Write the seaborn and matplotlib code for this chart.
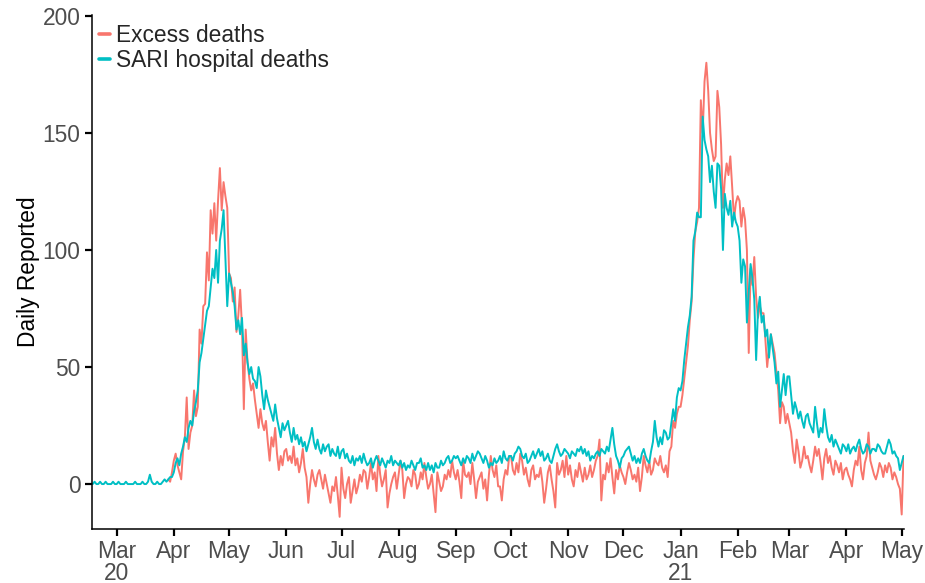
import numpy as np
import pandas as pd
import matplotlib
matplotlib.use("Agg")
import matplotlib.pyplot as plt
import seaborn as sns

# ---- Daily SARI hospital deaths, one list per month (from 17 Feb 2020) ----
sari_start = "2020-02-17"
sari_feb20 = [0, 1, 0, 0, 1, 0, 0, 1, 0, 0, 0, 1, 0]
sari_mar20 = [0, 1, 0, 0, 0, 1, 0, 0, 0, 0, 1, 0, 0, 0, 1, 0, 0, 1, 4, 1,
              0, 0, 1, 0, 0, 1, 2, 1, 2, 3, 3]
sari_apr20 = [5, 9, 11, 8, 13, 16, 20, 18, 24, 27, 25, 31, 35, 40, 52, 56, 62, 68, 74, 76,
              84, 92, 88, 100, 86, 104, 109, 117, 96, 76]
sari_may20 = [90, 86, 82, 76, 66, 70, 64, 71, 55, 60, 52, 47, 50, 45, 44, 41, 50, 46, 38, 32,
              40, 36, 33, 30, 27, 34, 28, 24, 20, 26, 23]
sari_jun20 = [25, 27, 22, 18, 24, 19, 21, 17, 20, 16, 18, 14, 17, 20, 24, 18, 15, 19, 15, 13,
              17, 14, 16, 17, 12, 15, 13, 12, 16, 11]
sari_jul20 = [14, 15, 11, 13, 10, 9, 12, 8, 11, 10, 12, 9, 13, 10, 8, 9, 11, 7, 10, 12,
              10, 8, 11, 9, 7, 10, 9, 12, 8, 10, 9]
sari_aug20 = [8, 10, 7, 9, 6, 8, 7, 10, 8, 6, 9, 9, 11, 7, 8, 6, 9, 6, 8, 5,
              9, 7, 7, 10, 8, 9, 11, 12, 9, 10, 12]
sari_sep20 = [11, 12, 10, 8, 11, 9, 12, 11, 9, 13, 10, 12, 14, 13, 11, 9, 12, 10, 7, 9,
              8, 11, 9, 10, 12, 9, 14, 11, 10, 12]
sari_oct20 = [12, 10, 13, 14, 16, 15, 12, 11, 13, 9, 10, 12, 14, 11, 13, 15, 12, 14, 10, 11,
              13, 10, 9, 12, 15, 17, 14, 12, 13, 15, 14]
sari_nov20 = [13, 11, 14, 13, 12, 15, 14, 16, 13, 15, 12, 14, 10, 12, 11, 13, 14, 12, 15, 14,
              13, 16, 14, 19, 24, 17, 12, 10, 7, 11]
sari_dec20 = [12, 14, 15, 16, 13, 10, 12, 9, 11, 9, 13, 15, 12, 10, 9, 14, 18, 27, 20, 16,
              20, 17, 23, 22, 19, 20, 26, 32, 27, 37, 41]
sari_jan21 = [40, 44, 53, 60, 67, 72, 80, 104, 108, 116, 114, 114, 157, 147, 143, 140, 129, 136, 125, 118,
              137, 136, 126, 100, 124, 118, 115, 121, 110, 116, 112]
sari_feb21 = [110, 104, 86, 96, 93, 69, 82, 94, 88, 79, 53, 74, 80, 69, 72, 63, 66, 54, 64, 58,
              52, 43, 48, 33, 40, 47, 38, 46]
sari_mar21 = [46, 38, 30, 35, 32, 28, 31, 27, 24, 29, 30, 26, 24, 22, 33, 26, 20, 24, 22, 32,
              25, 20, 18, 21, 16, 19, 17, 15, 13, 17, 16]
sari_apr21 = [14, 17, 13, 15, 16, 14, 17, 19, 15, 13, 14, 17, 16, 13, 15, 15, 14, 17, 16, 14,
              13, 13, 16, 19, 17, 13, 14, 12, 11, 6]
sari_may21 = [9, 12]

# ---- Daily excess deaths, one list per month (from 29 Mar 2020) ----
excess_start = "2020-03-29"
excess_mar20 = [2, 1, 5]
excess_apr20 = [10, 13, 8, 5, 2, 14, 20, 37, 15, 22, 25, 40, 29, 33, 66, 60, 76, 77, 99, 87,
                117, 107, 120, 104, 121, 135, 117, 129, 123, 118]
excess_may20 = [90, 88, 78, 84, 65, 72, 83, 67, 32, 66, 52, 45, 40, 43, 36, 30, 24, 32, 26, 23,
                27, 18, 10, 20, 16, 24, 13, 6, 12, 8, 14]
excess_jun20 = [15, 10, 12, 9, 16, 8, 11, 5, 9, 15, 7, 3, -8, 0, 6, 2, -1, 4, 6, 2,
                -2, 4, 0, -4, -8, -1, -3, 3, -5, -14]
excess_jul20 = [7, -2, -6, 0, 3, -8, -3, 2, -4, -1, 4, 1, 6, 5, -2, 3, 9, 2, 5, -3,
                12, 4, -1, 2, 6, -10, -4, 0, 3, 5, -2]
excess_aug20 = [4, 10, 6, -6, 0, 3, 2, -1, 6, 4, -2, 0, 5, 2, 9, 3, -2, 0, 4, -4,
                -12, 5, 1, -3, -1, 4, 2, 6, 3, 10, 5]
excess_sep20 = [2, 6, 1, -6, 10, 4, 3, 5, 0, 9, 2, -6, 1, 3, 5, -2, 2, -7, 4, 12,
                6, 3, 8, -1, -1, -7, 2, 6, 4, 12]
excess_oct20 = [12, 6, 4, 9, 5, 13, 10, 4, 7, 2, -1, 6, 8, 2, 4, 3, 7, 1, -8, -2,
                5, 8, 2, -3, -10, 9, 4, 6, 10, 3, 12]
excess_nov20 = [4, 8, 2, -1, 6, 3, 9, 5, 1, 7, 2, 4, 8, 3, 6, 10, 12, 19, -7, 4,
                2, 9, 5, 11, 3, -4, 6, 2, 8, 5]
excess_dec20 = [3, 0, 5, 9, 6, 2, 4, 1, 7, -3, 3, 12, 8, 5, 10, 4, 6, 11, 9, 8,
                12, 7, 5, 8, 3, 14, 16, 27, 24, 30, 33]
excess_jan21 = [33, 38, 45, 52, 59, 70, 78, 96, 108, 112, 118, 164, 150, 172, 180, 168, 150, 143, 138, 140,
                168, 161, 145, 118, 130, 137, 132, 140, 127, 113, 120]
excess_feb21 = [123, 121, 110, 118, 113, 100, 56, 92, 85, 97, 80, 71, 76, 73, 73, 62, 50, 58, 64, 60,
                56, 48, 40, 26, 35, 33, 26, 30]
excess_mar21 = [26, 22, 14, 9, 19, 14, 7, 10, 16, 11, 12, 8, 5, 10, 16, 12, 15, 9, 2, 11,
                15, 9, 12, 7, 4, 10, 8, 5, 9, 2, 6]
excess_apr21 = [7, 4, 2, -1, 6, 10, 8, 16, 6, 2, 9, 12, 22, 10, 7, 4, 2, 5, 9, 7,
                3, 8, 5, 9, 7, 2, 5, 3, 0, -2]
excess_may21 = [-13, 12]

series_names = ["Excess deaths", "SARI hospital deaths"]
series_colors = ["#F8766D", "#00BFC4"]

month_ticks = ["2020-03-01", "2020-04-01", "2020-05-01", "2020-06-01", "2020-07-01",
               "2020-08-01", "2020-09-01", "2020-10-01", "2020-11-01", "2020-12-01",
               "2021-01-01", "2021-02-01", "2021-03-01", "2021-04-01", "2021-05-01"]
month_labels = ["Mar\n20", "Apr", "May", "Jun", "Jul", "Aug", "Sep", "Oct", "Nov", "Dec",
                "Jan\n21", "Feb", "Mar", "Apr", "May"]
y_ticks = [0, 50, 100, 150, 200]

# ---- assemble long-form table ----
sari = (sari_feb20 + sari_mar20 + sari_apr20 + sari_may20 + sari_jun20 + sari_jul20 +
        sari_aug20 + sari_sep20 + sari_oct20 + sari_nov20 + sari_dec20 + sari_jan21 +
        sari_feb21 + sari_mar21 + sari_apr21 + sari_may21)
excess = (excess_mar20 + excess_apr20 + excess_may20 + excess_jun20 + excess_jul20 +
          excess_aug20 + excess_sep20 + excess_oct20 + excess_nov20 + excess_dec20 +
          excess_jan21 + excess_feb21 + excess_mar21 + excess_apr21 + excess_may21)

df = pd.concat([
    pd.DataFrame({"date": pd.date_range(excess_start, periods=len(excess), freq="D"),
                  "deaths": excess, "series": series_names[0]}),
    pd.DataFrame({"date": pd.date_range(sari_start, periods=len(sari), freq="D"),
                  "deaths": sari, "series": series_names[1]}),
], ignore_index=True)

sns.set_theme(style="ticks")
plt.rcParams["font.family"] = ["Liberation Sans", "DejaVu Sans"]

FS = 16.4
fig = plt.figure(figsize=(9.25, 5.83), dpi=100)
W, H = 925, 583
ax = fig.add_axes([91.5 / W, 1 - 529 / H, (904 - 91.5) / W, (529 - 15) / H])

sns.lineplot(data=df, x="date", y="deaths", hue="series", hue_order=series_names,
             palette=dict(zip(series_names, series_colors)), linewidth=1.4,
             estimator=None, errorbar=None, ax=ax)

ax.set_xlim(pd.Timestamp("2020-02-17") - pd.Timedelta(hours=16),
            pd.Timestamp("2021-05-02") + pd.Timedelta(hours=6))
ax.set_ylim(-19.2, 200.4)

ax.set_xticks(pd.to_datetime(month_ticks))
ax.set_xticklabels(month_labels)
for lbl in ax.get_xticklabels():
    lbl.set_linespacing(0.92)
ax.set_yticks(y_ticks)
ax.set_yticklabels([str(v) for v in y_ticks])

ax.tick_params(axis="both", colors="black", labelcolor="#4D4D4D", labelsize=FS,
               length=5, width=1.6, direction="out")
ax.tick_params(axis="x", pad=3)
ax.tick_params(axis="y", pad=3)

for side in ["top", "right"]:
    ax.spines[side].set_visible(False)
for side in ["left", "bottom"]:
    ax.spines[side].set_color("black")
    ax.spines[side].set_linewidth(1.1)

ax.set_xlabel("")
ax.set_ylabel("Daily Reported", fontsize=FS, color="black", labelpad=2)
ax.grid(False)

handles, labels = ax.get_legend_handles_labels()
leg = ax.legend(handles, labels, loc="upper left", bbox_to_anchor=(99 / W, 1 - 24 / H),
                bbox_transform=fig.transFigure, frameon=False, fontsize=FS,
                handlelength=0.5, handletextpad=0.25, labelspacing=0.08,
                borderpad=0.0, borderaxespad=0.0)
for line in leg.get_lines():
    line.set_linewidth(2.6)

fig.savefig("out.png", dpi=100, facecolor="white")
